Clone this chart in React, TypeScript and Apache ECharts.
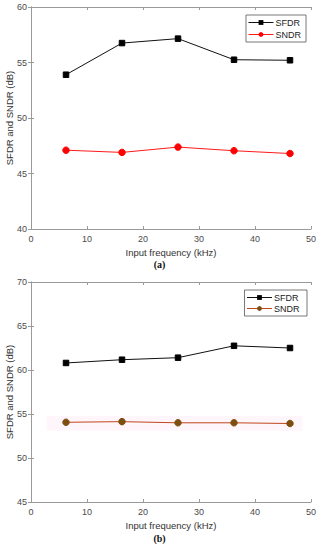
import React, { useEffect, useRef } from "react";
import * as echarts from "echarts";

const freqs = [6.25, 16.25, 26.25, 36.25, 46.25];
const sfdrA = [53.9, 56.75, 57.15, 55.25, 55.2];
const sndrA = [47.1, 46.9, 47.38, 47.05, 46.8];
const sfdrB = [60.8, 61.17, 61.4, 62.75, 62.5];
const sndrB = [54.06, 54.13, 54.0, 54.0, 53.92];

const FONT = "Liberation Sans, Arial, sans-serif";
const GREY = "#4a4a4a";
const BORDER = "#9a9a9a";

function pairs(xs: number[], ys: number[]) {
  return xs.map((x, i) => [x, ys[i]]);
}

export default function App() {
  const ref = useRef<HTMLDivElement>(null);
  useEffect(() => {
    const chart = echarts.init(ref.current!, null, { renderer: "svg" });
    const mainX = (gi: number) => ({
      type: "value",
      gridIndex: gi,
      min: 0,
      max: 50,
      interval: 10,
      name: "Input frequency (kHz)",
      nameLocation: "middle",
      nameGap: 18,
      nameMoveOverlap: false,
      nameTextStyle: { fontFamily: FONT, fontSize: 9.5, color: "#333" },
      axisLine: { show: true, lineStyle: { color: BORDER } },
      axisTick: { show: true, inside: true, length: 3, lineStyle: { color: BORDER } },
      axisLabel: { fontFamily: FONT, fontSize: 9, color: GREY, margin: 5 },
      splitLine: { show: false },
    });
    const topX = (gi: number) => ({
      type: "value",
      gridIndex: gi,
      position: "top",
      min: 0,
      max: 50,
      interval: 10,
      axisLine: { show: true, lineStyle: { color: BORDER } },
      axisTick: { show: true, inside: true, length: 3, lineStyle: { color: BORDER } },
      axisLabel: { show: false },
      splitLine: { show: false },
    });
    const mainY = (gi: number, min: number, max: number) => ({
      type: "value",
      gridIndex: gi,
      min,
      max,
      interval: 5,
      name: "SFDR and SNDR (dB)",
      nameLocation: "middle",
      nameGap: 17,
      nameMoveOverlap: false,
      nameRotate: 90,
      nameTextStyle: { fontFamily: FONT, fontSize: 9.5, color: "#333" },
      axisLine: { show: true, lineStyle: { color: BORDER } },
      axisTick: { show: true, inside: true, length: 3, lineStyle: { color: BORDER } },
      axisLabel: { fontFamily: FONT, fontSize: 9, color: GREY, margin: 4 },
      splitLine: { show: false },
    });
    const rightY = (gi: number, min: number, max: number) => ({
      type: "value",
      gridIndex: gi,
      position: "right",
      min,
      max,
      interval: 5,
      axisLine: { show: true, lineStyle: { color: BORDER } },
      axisTick: { show: true, inside: true, length: 3, lineStyle: { color: BORDER } },
      axisLabel: { show: false },
      splitLine: { show: false },
    });
    const line = (
      name: string,
      data: number[][],
      xi: number,
      yi: number,
      lineColor: string,
      markColor: string,
      symbol: string,
      size: number,
      extra: any = {}
    ) => ({
      type: "line",
      name,
      data,
      xAxisIndex: xi,
      yAxisIndex: yi,
      symbol,
      symbolSize: size,
      showSymbol: true,
      lineStyle: { color: lineColor, width: 1 },
      itemStyle: { color: markColor, borderColor: markColor },
      ...extra,
    });
    const legendBase = {
      orient: "vertical",
      itemWidth: 25,
      itemHeight: 6,
      itemGap: 3,
      padding: [3, 5, 3, 2],
      borderColor: "#555",
      borderWidth: 0.8,
      backgroundColor: "#fff",
      lineStyle: { width: 1 },
      textStyle: { fontFamily: FONT, fontSize: 9, color: "#222", padding: [0, 0, 0, -3] },
    };
    chart.setOption({
      animation: false,
      grid: [
        { left: 31, top: 7, width: 280, height: 222, containLabel: false, outerBoundsMode: "none" },
        { left: 31, top: 282, width: 280, height: 220, containLabel: false, outerBoundsMode: "none" },
      ],
      xAxis: [mainX(0), topX(0), mainX(1), topX(1)],
      yAxis: [mainY(0, 40, 60), rightY(0, 40, 60), mainY(1, 45, 70), rightY(1, 45, 70)],
      legend: [
        { ...legendBase, data: ["SFDR", "SNDR"], right: 13, top: 15 },
        { ...legendBase, data: ["SFDR ", "SNDR "], right: 12, top: 290, itemGap: 2 },
      ],
      series: [
        line("SFDR", pairs(freqs, sfdrA), 0, 0, "#111", "#000", "rect", 5.5),
        line("SNDR", pairs(freqs, sndrA), 0, 0, "#ff1a1a", "#ff0000", "circle", 6.5),
        line("SFDR ", pairs(freqs, sfdrB), 2, 2, "#111", "#000", "rect", 5.5),
        line("SNDR ", pairs(freqs, sndrB), 2, 2, "#c0461c", "#7d4e10", "circle", 6.5, {
          markArea: {
            silent: true,
            itemStyle: { color: "rgba(255,200,235,0.16)" },
            data: [[{ coord: [2.8, 54.8] }, { coord: [48.5, 53.1] }]],
          },
        }),
      ],
      graphic: [
        {
          type: "text",
          left: "center",
          top: 259,
          style: { text: "(a)", font: "bold 10px 'Liberation Serif', serif", fill: "#111" },
        },
        {
          type: "text",
          left: "center",
          top: 533,
          style: { text: "(b)", font: "bold 10px 'Liberation Serif', serif", fill: "#111" },
        },
      ],
    });
    return () => chart.dispose();
  }, []);
  return (
    <div
      ref={ref}
      style={{ position: "fixed", left: 0, top: 0, width: 319, height: 550, background: "#fff" }}
    />
  );
}
